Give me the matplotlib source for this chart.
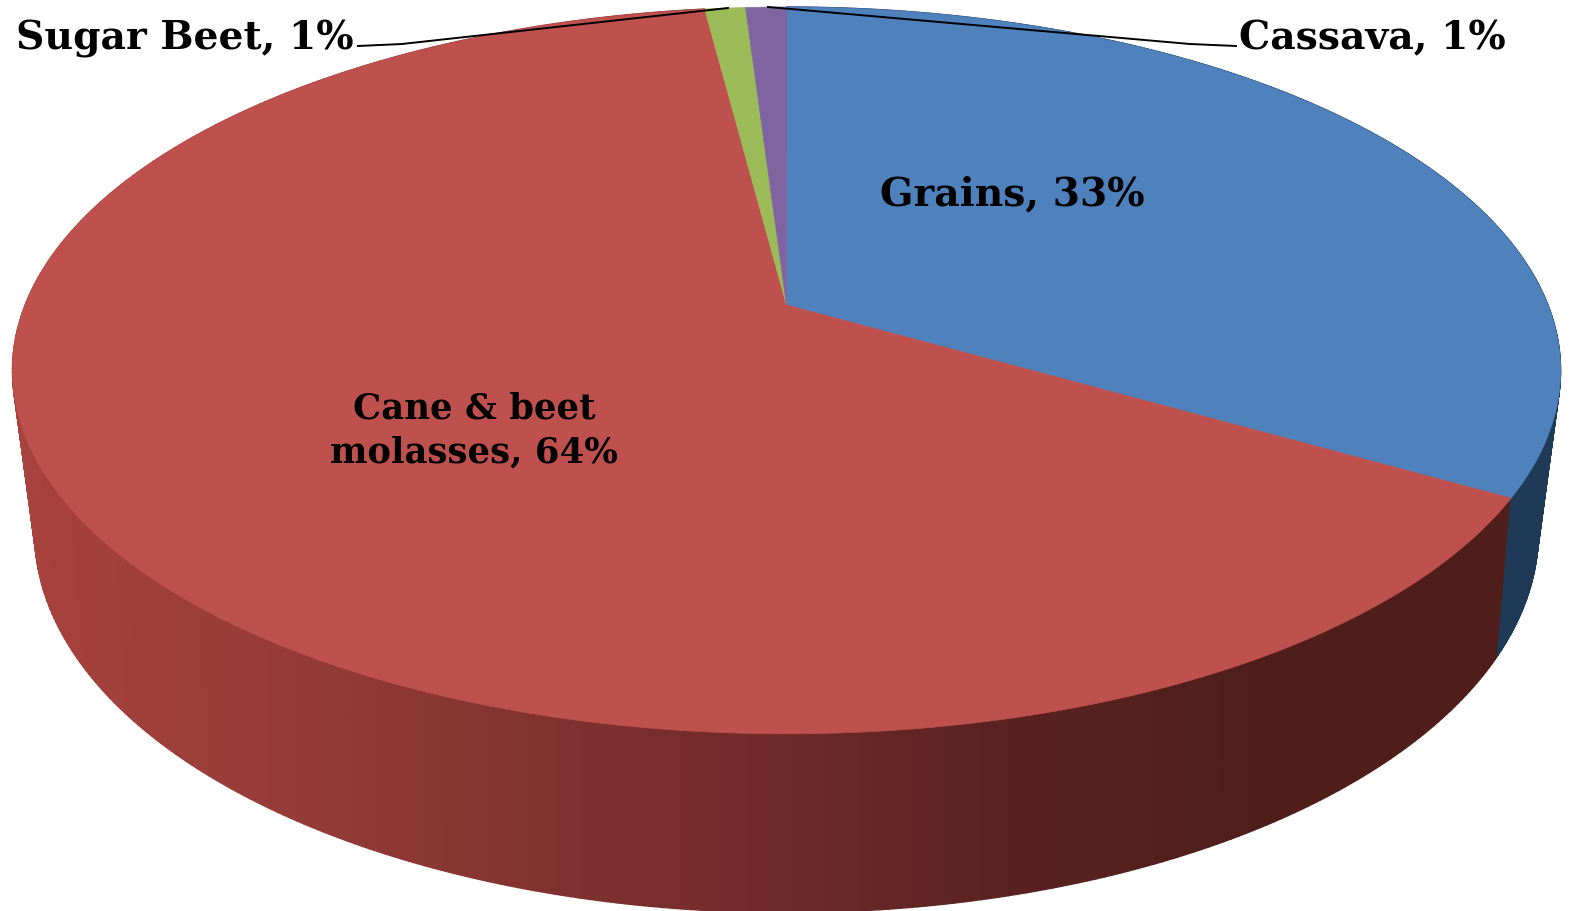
import matplotlib
matplotlib.use('Agg')
import matplotlib.pyplot as plt
import numpy as np
from matplotlib.collections import PolyCollection
from matplotlib.colors import LinearSegmentedColormap

# Slices, clockwise from 12 o'clock
labels = ['Grains', 'Cane & beet\nmolasses', 'Sugar Beet', 'Cassava']
values = [33, 64, 1, 1]
colors = ['#4F81BD', '#BE504D', '#9BBB59', '#8064A2']
side_colors = ['#1E3A57', None, None, None]

W, H = 1571, 912
CX = 786.5
APEX_Y = 306


def project(angle, x_scale, y_scale, y0, c):
    # circle in perspective, angle in radians clockwise from the top
    u = np.sin(angle)
    v = np.cos(angle)
    w = 1 + c * v
    return CX + x_scale * u / w, y0 - y_scale * v / w


def top_face(angle):
    return project(angle, 761.4, 351.6, APEX_Y, 0.18)


def bottom_face(angle):
    return project(angle, 735, 363.5, 453.5, 0.21)


fig = plt.figure(figsize=(W / 100, H / 100), dpi=100)
ax = fig.add_axes([0, 0, 1, 1])
ax.set_xlim(0, W)
ax.set_ylim(H, 0)
ax.axis('off')

edges = np.concatenate([[0], np.cumsum(values)]) / np.sum(values) * 2 * np.pi

# Red side goes dark from left to right
red_side = LinearSegmentedColormap.from_list('red_side', [
    (0.0, '#A8423E'), (0.2, '#933B37'), (0.38, '#7E302E'), (0.5, '#6F2B2A'),
    (0.65, '#5A2221'), (0.82, '#4F1E1B'), (1.0, '#4F1E1B')], N=4096)

# Sides: thin strips between the top and bottom rims
for i in [1, 0]:
    a = np.linspace(edges[i], edges[i + 1], 400)
    xt, yt = top_face(a)
    xb, yb = bottom_face(a)
    quads = []
    strip_colors = []
    for k in range(len(a) - 1):
        quads.append([(xt[k], yt[k]), (xt[k + 1], yt[k + 1]), (xb[k + 1], yb[k + 1]), (xb[k], yb[k])])
        if side_colors[i] is None:
            strip_colors.append(red_side((xb[k] - 20) / 1510))
        else:
            strip_colors.append(side_colors[i])
    ax.add_collection(PolyCollection(quads, facecolors=strip_colors, edgecolors=strip_colors, linewidths=1.0))

# Top face
for i in range(len(values)):
    a = np.linspace(edges[i], edges[i + 1], 300)
    x, y = top_face(a)
    ax.fill(np.r_[CX, x], np.r_[APEX_Y, y], color=colors[i], lw=0.5)

# Leader lines
ax.plot([358, 402, 728], [47, 45, 9], color='black', lw=1.4)
ax.plot([768, 1190, 1236], [8, 45, 47], color='black', lw=1.4)

font = dict(family='DejaVu Serif', fontweight='bold', fontsize=28.3, color='black')
pct = ['%d%%' % v for v in values]
ax.text(1012, 205, labels[0] + ', ' + pct[0], ha='center', va='baseline', **font)
ax.text(474, 463, labels[1] + ', ' + pct[1], ha='center', va='baseline', linespacing=1.376,
        family='DejaVu Serif', fontweight='bold', fontsize=25.5, color='black')
ax.text(16, 49, labels[2] + ', ' + pct[2], ha='left', va='baseline', **font)
ax.text(1239, 49, labels[3] + ', ' + pct[3], ha='left', va='baseline', **font)

fig.savefig('out.png', dpi=100, facecolor='white')
